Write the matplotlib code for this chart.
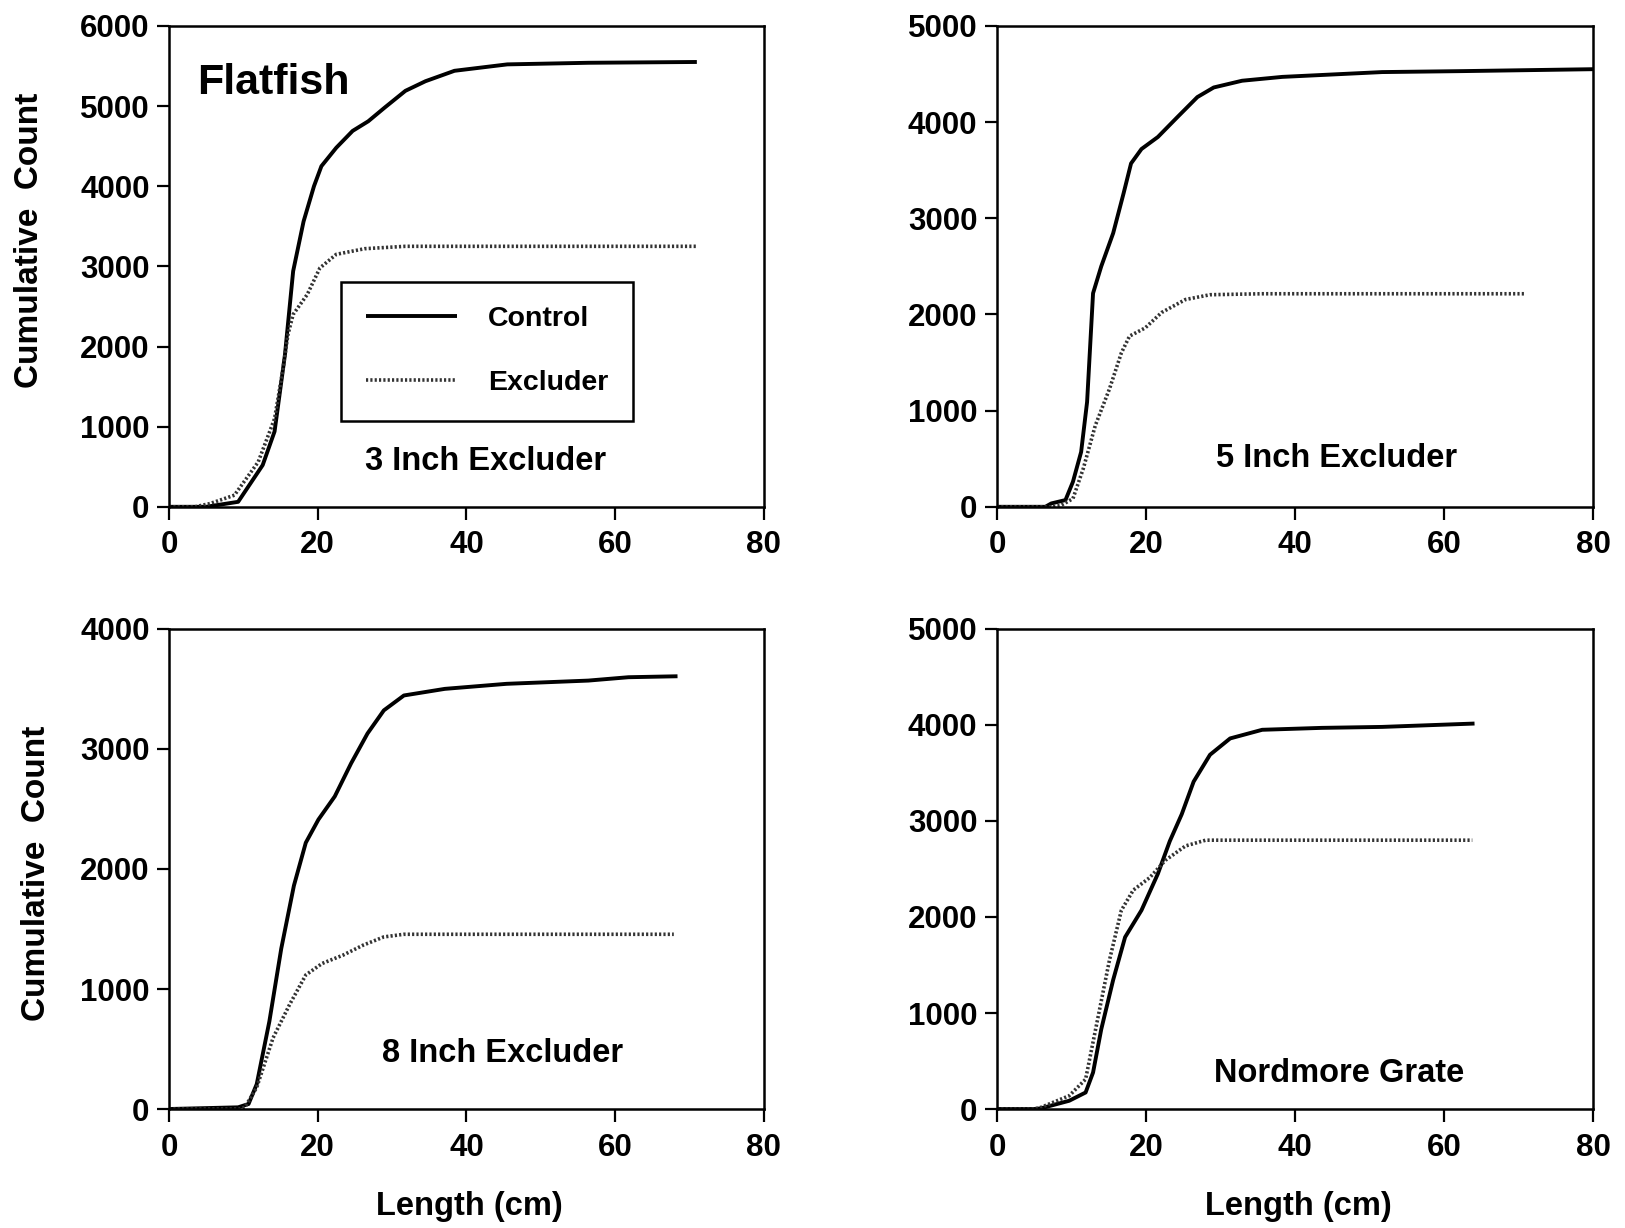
import matplotlib
matplotlib.use("Agg")
import matplotlib.pyplot as plt

plt.rcParams['font.family'] = ['Liberation Sans', 'DejaVu Sans']
plt.rcParams['font.weight'] = 'bold'

# 3 inch excluder
x3_ctrl = [0, 5, 9.3, 12.6, 14.2, 15.6, 16.7, 18.1, 19.5, 20.5, 22.5, 24.7, 26.8, 29.0, 31.8, 34.5, 38.4, 45.5, 56.4, 71]
y3_ctrl = [0, 0, 62, 520, 940, 1900, 2940, 3560, 4000, 4250, 4480, 4690, 4810, 4980, 5190, 5310, 5440, 5520, 5540, 5550]
x3_excl = [0, 3.5, 5.5, 8.8, 12.0, 14.2, 15.3, 16.0, 16.7, 18.6, 20.3, 22.5, 26.3, 31.8, 71]
y3_excl = [0, 0, 40, 145, 560, 1100, 1700, 2150, 2400, 2650, 2980, 3150, 3220, 3250, 3250]

# 5 inch excluder
x5_ctrl = [0, 6.5, 7.3, 9.2, 10.2, 11.3, 12.1, 12.9, 14.0, 15.6, 17.0, 18.0, 19.4, 21.6, 24.2, 26.9, 29.1, 32.9, 38.3, 51.7, 62.5, 80]
y5_ctrl = [0, 0, 35, 70, 260, 570, 1090, 2220, 2500, 2845, 3260, 3570, 3720, 3845, 4050, 4260, 4360, 4430, 4470, 4520, 4530, 4550]
x5_excl = [0, 7.5, 8.6, 10.2, 11.6, 13.2, 15.1, 16.7, 17.8, 19.9, 22.1, 25.3, 28.6, 35.6, 70.9]
y5_excl = [0, 0, 15, 85, 400, 845, 1225, 1600, 1775, 1860, 2020, 2155, 2205, 2215, 2215]

# 8 inch excluder
x8_ctrl = [0, 9.3, 10.7, 11.8, 13.5, 15.1, 16.8, 18.4, 20.1, 22.3, 24.5, 26.7, 28.9, 31.6, 37.1, 45.4, 56.4, 61.8, 68.4]
y8_ctrl = [0, 14, 42, 207, 730, 1337, 1861, 2219, 2412, 2605, 2881, 3129, 3322, 3446, 3501, 3543, 3570, 3598, 3606]
x8_excl = [0, 9.5, 10.2, 11.8, 14.0, 16.2, 18.4, 20.6, 23.4, 26.1, 28.9, 31.6, 67.9]
y8_excl = [0, 0, 14, 180, 593, 868, 1117, 1213, 1282, 1365, 1434, 1456, 1456]

# Nordmore grate
xn_ctrl = [0, 5.0, 5.9, 9.7, 11.9, 12.9, 14.0, 15.6, 17.2, 19.4, 21.6, 23.2, 24.8, 26.4, 28.6, 31.3, 35.6, 43.6, 51.7, 64.1]
yn_ctrl = [0, 0, 7, 86, 172, 380, 830, 1345, 1790, 2070, 2450, 2790, 3070, 3410, 3690, 3860, 3950, 3970, 3980, 4015]
xn_excl = [0, 5.0, 5.9, 9.7, 11.9, 13.5, 15.1, 16.7, 18.3, 20.5, 22.6, 25.3, 28.0, 32.9, 63.8]
yn_excl = [0, 0, 17, 138, 310, 930, 1550, 2070, 2280, 2410, 2590, 2740, 2800, 2800, 2800]

panel_names = ["3 Inch Excluder", "5 Inch Excluder", "8 Inch Excluder", "Nordmore Grate"]
y_max = [6000, 5000, 4000, 5000]
x_ticks = [0, 20, 40, 60, 80]

fig = plt.figure(figsize=(16.25, 12.28), dpi=100)
positions = [
    [0.104, 0.5873, 0.366, 0.3916],
    [0.6135, 0.5873, 0.3668, 0.3916],
    [0.104, 0.0969, 0.366, 0.3909],
    [0.6135, 0.0969, 0.3668, 0.3909],
]
curves = [
    (x3_ctrl, y3_ctrl, x3_excl, y3_excl),
    (x5_ctrl, y5_ctrl, x5_excl, y5_excl),
    (x8_ctrl, y8_ctrl, x8_excl, y8_excl),
    (xn_ctrl, yn_ctrl, xn_excl, yn_excl),
]
label_pos = [(0.532, 0.095), (0.570, 0.101), (0.561, 0.115), (0.574, 0.075)]
ylabel_pos = [(-0.209, 0.554), None, (-0.196, 0.49), None]

axes = []
for i in range(4):
    ax = fig.add_axes(positions[i])
    xc, yc, xe, ye = curves[i]
    ax.plot(xc, yc, color='black', lw=2.8, solid_capstyle='butt', solid_joinstyle='round', label='Control')
    ax.plot(xe, ye, color='#333333', lw=2.6, linestyle=(0, (0.6, 0.6)), label='Excluder')
    ax.set_xlim(0, 80)
    ax.set_ylim(0, y_max[i])
    ax.set_xticks(x_ticks)
    ax.set_yticks(range(0, y_max[i] + 1, 1000))
    ax.tick_params(direction='out', length=9, width=1.6, labelsize=22.5, pad=5)
    ax.tick_params(axis='x', pad=8)
    for lab in ax.get_xticklabels() + ax.get_yticklabels():
        lab.set_fontweight('bold')
    for s in ax.spines.values():
        s.set_linewidth(1.8)
    ax.text(label_pos[i][0], label_pos[i][1], panel_names[i], transform=ax.transAxes,
            ha='center', va='center', fontsize=23.5, fontweight='bold')
    if ylabel_pos[i] is not None:
        ax.set_ylabel("Cumulative  Count", fontsize=24, fontweight='bold')
        ax.yaxis.set_label_coords(*ylabel_pos[i])
    if i >= 2:
        ax.set_xlabel("Length (cm)", fontsize=23.5, fontweight='bold')
        ax.xaxis.set_label_coords(0.505, -0.17)
    axes.append(ax)

axes[0].text(0.047, 0.882, "Flatfish", transform=axes[0].transAxes, ha='left', va='center',
             fontsize=31, fontweight='bold')

leg = axes[0].legend(loc='upper left', bbox_to_anchor=(0.29, 0.468), fontsize=20.5,
                     frameon=True, fancybox=False, edgecolor='black', framealpha=1,
                     handlelength=3.2, handletextpad=1.1, labelspacing=1.35, borderpad=0.85,
                     borderaxespad=0)
leg.get_frame().set_linewidth(1.8)
for t in leg.get_texts():
    t.set_fontweight('bold')

fig.savefig("out.png", dpi=100)
